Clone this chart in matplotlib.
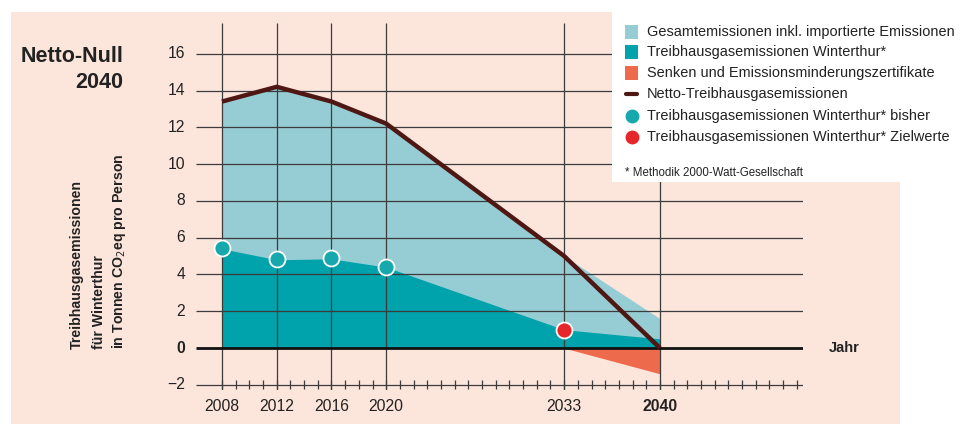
import matplotlib
matplotlib.use("Agg")
import matplotlib.pyplot as plt
from matplotlib.patches import Rectangle
from matplotlib.lines import Line2D

plt.rcParams['font.family'] = ['Liberation Sans', 'DejaVu Sans']

# --- data -------------------------------------------------------------
years = [2008, 2012, 2016, 2020, 2033, 2040]
net_emissions = [13.4, 14.2, 13.4, 12.2, 5.0, 0.0]
total_emissions = [13.4, 14.2, 13.4, 12.2, 5.0, 1.6]
winterthur_emissions = [5.4, 4.8, 4.85, 4.4, 1.0, 0.5]
sink_years = [2033, 2040]
sink_values = [0.0, -1.4]
past_years = [2008, 2012, 2016, 2020]
past_values = [5.45, 4.85, 4.9, 4.4]
target_years = [2033]
target_values = [1.0]
x_tick_labels = ['2008', '2012', '2016', '2020', '2033', '2040']
y_ticks = [-2, 0, 2, 4, 6, 8, 10, 12, 14, 16]

legend_labels = [
    'Gesamtemissionen inkl. importierte Emissionen',
    'Treibhausgasemissionen Winterthur*',
    'Senken und Emissionsminderungszertifikate',
    'Netto-Treibhausgasemissionen',
    'Treibhausgasemissionen Winterthur* bisher',
    'Treibhausgasemissionen Winterthur* Zielwerte',
]

# --- colours ----------------------------------------------------------
PEACH = '#fce5db'
LIGHT_TEAL = '#96cdd4'
DARK_TEAL = '#00a2ab'
ORANGE = '#ee6a4c'
NET = '#4f1713'
DOT_TEAL = '#16a8ad'
DOT_RED = '#e5262a'
GRID = '#3c3c3c'
TEXT = '#222222'

W, H = 963, 424
fig = plt.figure(figsize=(W / 100, H / 100), dpi=100)
fig.patch.set_facecolor('white')


def fx(px):
    return px / W


def fy(py):
    return 1 - py / H


# peach page background
fig.patches.append(Rectangle((fx(11), 0), fx(900) - fx(11), fy(12),
                             transform=fig.transFigure, facecolor=PEACH,
                             edgecolor='none', zorder=-5))

# plotting area
x0, x1 = 2006.1, 2050.45
y0, y1 = -2.28, 17.67
ax = fig.add_axes([fx(196), fy(390), fx(803) - fx(196), (390 - 23) / H])
ax.set_xlim(x0, x1)
ax.set_ylim(y0, y1)
ax.axis('off')
ax.patch.set_alpha(0)

# areas
ax.fill_between(years, 0, total_emissions, color=LIGHT_TEAL, lw=0, zorder=1)
ax.fill_between(years, 0, winterthur_emissions, color=DARK_TEAL, lw=0, zorder=2)
ax.fill_between(sink_years, 0, sink_values, color=ORANGE, lw=0, zorder=2)

# grid
for yv in y_ticks:
    if yv == 0:
        continue
    ax.plot([x0, x1], [yv, yv], color=GRID, lw=0.9, zorder=3,
            solid_capstyle='butt')
for yr in years:
    ax.plot([yr, yr], [y0, y1], color=GRID, lw=0.9, zorder=3,
            solid_capstyle='butt')
# year ticks along the bottom line
for yr in range(2008, 2051):
    ax.plot([yr, yr], [-2.25, -1.75], color=GRID, lw=0.9, zorder=3,
            solid_capstyle='butt')
# zero line
ax.plot([x0, x1], [0, 0], color='#111111', lw=2.0, zorder=4,
        solid_capstyle='butt')

# net emissions line
ax.plot(years, net_emissions, color=NET, lw=3.2, zorder=5,
        solid_joinstyle='miter', solid_capstyle='butt')

# points
ax.plot(past_years, past_values, 'o', ms=11.5, mfc=DOT_TEAL, mec='white',
        mew=1.3, zorder=6, clip_on=False)
ax.plot(target_years, target_values, 'o', ms=11.5, mfc=DOT_RED, mec='white',
        mew=1.3, zorder=6, clip_on=False)

# tick labels
for yv in y_ticks:
    lab = str(yv) if yv >= 0 else '\u2212' + str(-yv)
    ax.text(2005.3, yv, lab, ha='right', va='center', fontsize=11.3,
            color=TEXT, fontweight='bold' if yv == 0 else 'normal',
            clip_on=False)
for yr, lab in zip(years, x_tick_labels):
    ax.text(yr, -3.2, lab, ha='center', va='center', fontsize=11.3,
            color=TEXT, fontweight='bold' if lab == '2040' else 'normal',
            clip_on=False)
ax.text(2052.3, 0, 'Jahr', ha='left', va='center', fontsize=10.5,
        fontweight='bold', color=TEXT, clip_on=False)

# title
fig.text(fx(123), fy(57), 'Netto-Null', ha='right', va='center',
         fontsize=15.5, fontweight='bold', color=TEXT)
fig.text(fx(123), fy(82), '2040', ha='right', va='center',
         fontsize=15.5, fontweight='bold', color=TEXT)

# y axis title
for xp, line in [(77, 'Treibhausgasemissionen'), (99, 'für Winterthur'),
                 (119, 'in Tonnen CO$_2$eq pro Person')]:
    fig.text(fx(xp), fy(349), line, rotation=90, ha='center', va='bottom',
             fontsize=10.2, fontweight='bold', color=TEXT,
             rotation_mode='default')

# legend panel
fig.patches.append(Rectangle((fx(612), fy(182)), 1 - fx(612), fy(0) - fy(182),
                             transform=fig.transFigure, facecolor='white',
                             edgecolor='none', zorder=10))
rows = [32, 52, 73, 94, 116, 137]
for i, (py, lab) in enumerate(zip(rows, legend_labels)):
    cx = fx(631.5)
    if i < 3:
        col = [LIGHT_TEAL, DARK_TEAL, ORANGE][i]
        fig.patches.append(Rectangle((fx(625), fy(py + 6.5)), fx(13), 13 / H,
                                     transform=fig.transFigure, facecolor=col,
                                     edgecolor='none', zorder=11))
    elif i == 3:
        fig.lines.append(Line2D([fx(626), fx(637)], [fy(py), fy(py)],
                                transform=fig.transFigure, color=NET, lw=3.0,
                                zorder=11, solid_capstyle='round'))
    else:
        col = DOT_TEAL if i == 4 else DOT_RED
        fig.lines.append(Line2D([cx], [fy(py)], transform=fig.transFigure,
                                marker='o', ms=10, mfc=col, mec='none',
                                zorder=11))
    fig.text(fx(647), fy(py), lab, ha='left', va='center', fontsize=10.45,
             color=TEXT, zorder=12)
fig.text(fx(625), fy(173), '* Methodik 2000-Watt-Gesellschaft', ha='left',
         va='center', fontsize=8.3, color=TEXT, zorder=12)

fig.savefig('out.png', dpi=100, facecolor='white')
